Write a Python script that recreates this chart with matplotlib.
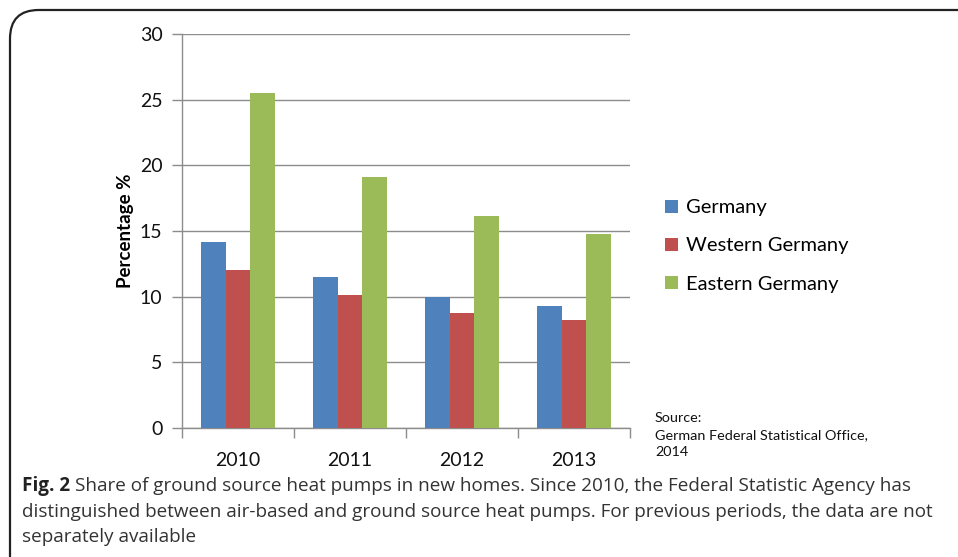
import matplotlib.pyplot as plt
import numpy as np
from matplotlib.patches import FancyBboxPatch

years = ["2010", "2011", "2012", "2013"]
germany = [14.2, 11.5, 10.0, 9.3]
western = [12.0, 10.1, 8.75, 8.2]
eastern = [25.5, 19.1, 16.15, 14.8]
series_names = ["Germany", "Western Germany", "Eastern Germany"]
colors = ["#4F81BD", "#C0504D", "#9BBB59"]

plt.rcParams['font.family'] = ['Lato', 'DejaVu Sans']

fig = plt.figure(figsize=(9.58, 5.57), dpi=100)

# rounded frame running off the right/bottom edges
frame = FancyBboxPatch((10 / 958, -0.2), 1.2, 1 - 10 / 557 + 0.2,
                       boxstyle="round,pad=0,rounding_size=0.03",
                       transform=fig.transFigure, fill=False,
                       edgecolor="#222222", linewidth=1.6, mutation_aspect=958 / 557)
fig.patches.append(frame)

ax = fig.add_axes([182 / 958, 1 - 428 / 557, (630 - 182) / 958, (428 - 34) / 557])

x = np.arange(len(years))
w = 1 / 4.5
for i, (vals, name, c) in enumerate(zip([germany, western, eastern], series_names, colors)):
    ax.bar(x + (i - 1) * w, vals, w, color=c, label=name, zorder=3)

ax.set_xlim(-0.5, len(years) - 0.5)
ax.set_ylim(0, 30)
ax.set_yticks(range(0, 31, 5))
ax.yaxis.grid(True, color="#8c8c8c", linewidth=1.0, zorder=0)
for s in ["top", "right"]:
    ax.spines[s].set_visible(False)
for s in ["left", "bottom"]:
    ax.spines[s].set_color("#8c8c8c")
    ax.spines[s].set_linewidth(1.0)
ax.tick_params(axis="y", colors="#8c8c8c", length=7, width=1.0, labelsize=14,
               labelcolor="#111111", pad=7)
ax.set_xticks(x)
ax.set_xticklabels(years)
ax.set_xticks(np.arange(-0.5, len(years), 1), minor=True)
ax.tick_params(axis="x", which="major", length=0, labelsize=14, labelcolor="#111111", pad=17)
ax.tick_params(axis="x", which="minor", length=7, width=1.0, colors="#8c8c8c")
ax.set_ylabel("Percentage %", fontsize=13.5, fontweight="bold", labelpad=4)

ax.legend(loc="center left", bbox_to_anchor=(1.038, 0.462), frameon=False, fontsize=14.5,
          handlelength=0.65, handleheight=0.65, handletextpad=0.4, labelspacing=1.05)

fig.text(655 / 958, 1 - 435 / 557, "Source:\nGerman Federal Statistical Office,\n2014",
         fontsize=10.4, va="center", ha="left", linespacing=1.45, color="#111111")

cap_x = 22 / 958
cap_font = ['Open Sans', 'DejaVu Sans']
cap_size = 13.6
t = fig.text(cap_x, 1 - 486 / 557, "Fig. 2", fontsize=cap_size, fontweight="bold",
             va="center", ha="left", family=cap_font, color="#222222")
fig.canvas.draw()
bb = t.get_window_extent()
fig.text(bb.x1 / 958 + 0.005, 1 - 486 / 557,
         "Share of ground source heat pumps in new homes. Since 2010, the Federal Statistic Agency has",
         fontsize=cap_size, va="center", ha="left", family=cap_font, color="#333333")
fig.text(cap_x, 1 - 512 / 557,
         "distinguished between air-based and ground source heat pumps. For previous periods, the data are not",
         fontsize=cap_size, va="center", ha="left", family=cap_font, color="#333333")
fig.text(cap_x, 1 - 537 / 557, "separately available",
         fontsize=cap_size, va="center", ha="left", family=cap_font, color="#333333")

fig.savefig("out.png", dpi=100)
